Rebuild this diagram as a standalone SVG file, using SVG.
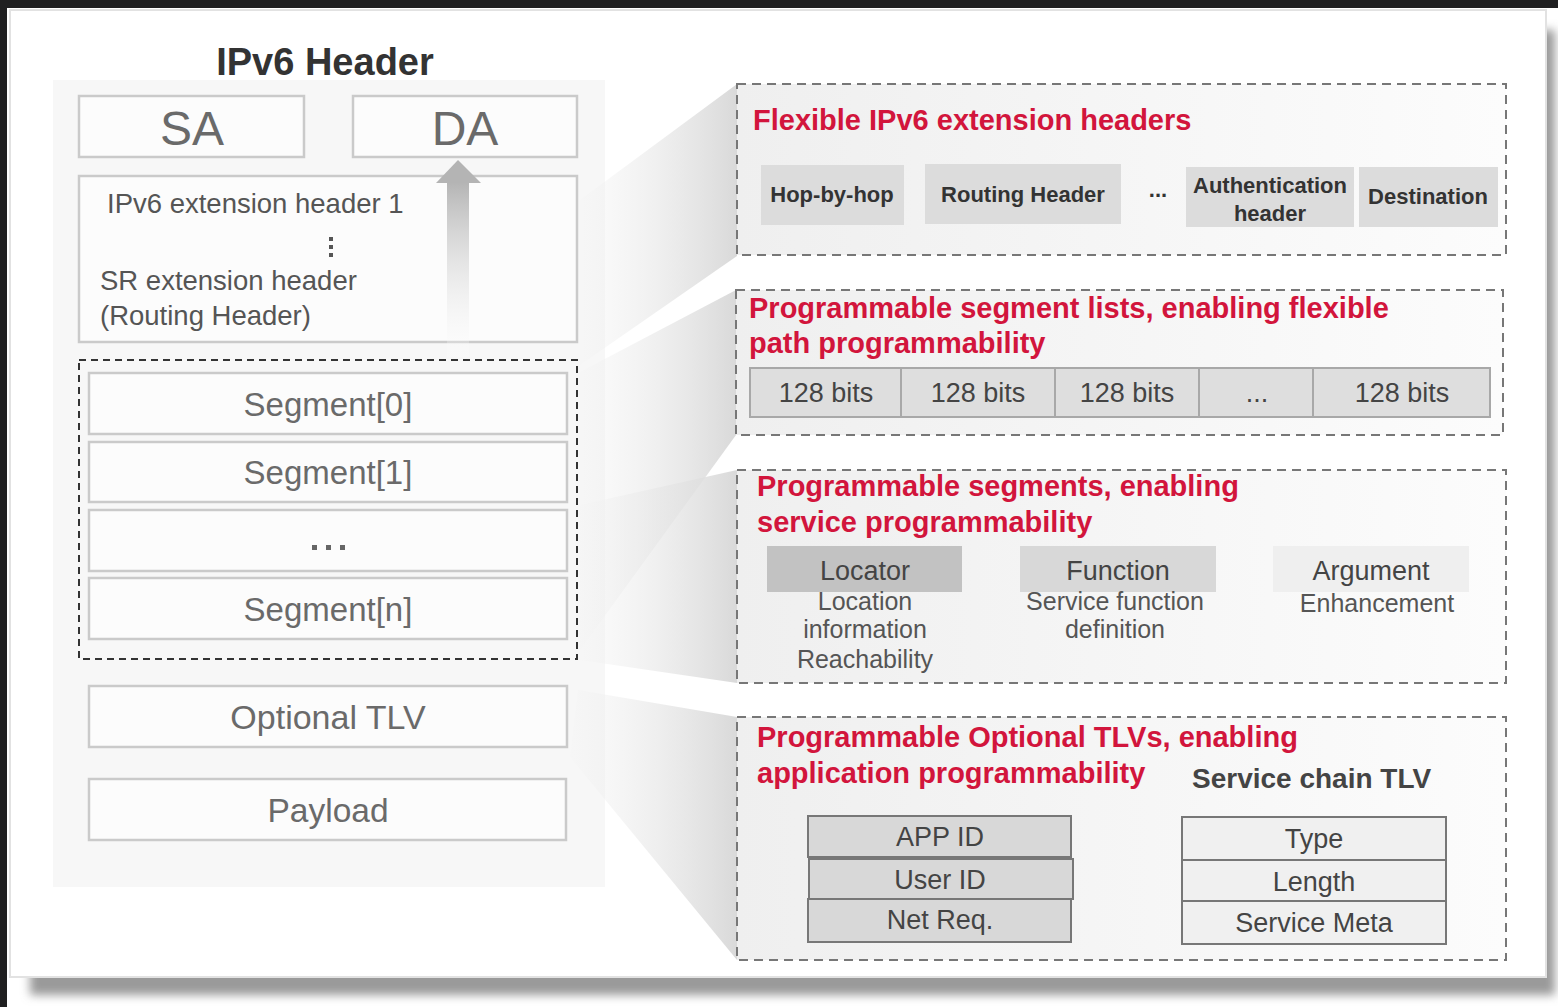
<svg xmlns="http://www.w3.org/2000/svg" width="1558" height="1007" viewBox="0 0 1558 1007">
<defs>
<linearGradient id="beam" x1="0" y1="0" x2="1" y2="0">
<stop offset="0" stop-color="#f4f4f4" stop-opacity="0.3"/>
<stop offset="1" stop-color="#d9d9d9" stop-opacity="1"/>
</linearGradient>
<linearGradient id="boxfill" x1="0" y1="0" x2="1" y2="0">
<stop offset="0" stop-color="#efefef"/>
<stop offset="1" stop-color="#fcfcfc"/>
</linearGradient>
<linearGradient id="shaft" x1="0" y1="0" x2="0" y2="1">
<stop offset="0" stop-color="#b4b4b4"/>
<stop offset="1" stop-color="#ffffff" stop-opacity="0.2"/>
</linearGradient>
<filter id="shadow" x="-5%" y="-5%" width="110%" height="110%">
<feGaussianBlur stdDeviation="5"/>
</filter>
<style>
.box{fill:#fcfcfc;stroke:#cacaca;stroke-width:2.5}
.big{font-family:"Liberation Sans",Arial,sans-serif;fill:#6a6a6a;text-anchor:middle}
.lt{font-family:"Liberation Sans",Arial,sans-serif;fill:#555;font-size:27.5px}
.dash{fill:url(#boxfill);stroke:#777;stroke-width:2;stroke-dasharray:9,6}
.red{font-family:"Liberation Sans",Arial,sans-serif;font-weight:bold;fill:#d2153c;font-size:29px}
.chip{font-family:"Liberation Sans",Arial,sans-serif;font-weight:bold;fill:#333;font-size:22px;text-anchor:middle}
.cell{fill:#dedede;stroke:#a8a8a8;stroke-width:2}
.ct{font-family:"Liberation Sans",Arial,sans-serif;fill:#444;font-size:27px;text-anchor:middle}
.sub{font-family:"Liberation Sans",Arial,sans-serif;fill:#555;font-size:25px;text-anchor:middle}
.stk{stroke:#777;stroke-width:2}
</style>
</defs>
<rect x="0" y="0" width="1558" height="1007" fill="#ffffff"/>
<rect x="0" y="0" width="1558" height="8" fill="#1f1f20"/>
<rect x="0" y="0" width="7" height="1007" fill="#1f1f20"/>
<rect x="30" y="30" width="1525" height="965" fill="#9a9a9a" filter="url(#shadow)"/>
<rect x="10" y="10" width="1536" height="967" fill="#ffffff" stroke="#e2e2e2" stroke-width="2"/>
<rect x="53" y="80" width="552" height="807" fill="#f7f7f7"/>

<g id="beams">
<polygon points="580,200 737,84 737,256 580,365" fill="url(#beam)"/>
<polygon points="580,372 736,290 736,435 580,650" fill="url(#beam)"/>
<polygon points="580,505 737,470 737,683 580,660" fill="url(#beam)"/>
<polygon points="578,690 737,717 737,960 570,757" fill="url(#beam)"/>
</g>

<text x="325" y="75" font-family="'Liberation Sans',Arial,sans-serif" font-weight="bold" font-size="38" fill="#333" text-anchor="middle">IPv6 Header</text>

<g id="sa"><rect class="box" x="79" y="96" width="225" height="61"/><text class="big" x="192" y="145" font-size="48">SA</text></g>
<g id="da"><rect class="box" x="353" y="96" width="224" height="61"/><text class="big" x="465" y="145" font-size="48">DA</text></g>

<g id="ext">
<rect class="box" x="79" y="176" width="498" height="166"/>
<text class="lt" x="107" y="213">IPv6 extension header 1</text>
<text class="lt" x="100" y="290">SR extension header</text>
<text class="lt" x="100" y="325">(Routing Header)</text>
<rect x="329" y="237" width="4" height="4" fill="#555"/>
<rect x="329" y="245" width="4" height="4" fill="#555"/>
<rect x="329" y="253" width="4" height="4" fill="#555"/>
</g>

<g id="connectors">
<rect x="447" y="182" width="22" height="175" fill="url(#shaft)"/>
<polygon points="436,183 458,160 481,183" fill="#b4b4b4"/>
</g>

<g id="seglist">
<rect x="79" y="360" width="498" height="299" fill="none" stroke="#333" stroke-width="2" stroke-dasharray="7,5"/>
<rect class="box" x="89" y="373" width="478" height="61"/><text class="big" x="328" y="416" font-size="33">Segment[0]</text>
<rect class="box" x="89" y="442" width="478" height="60"/><text class="big" x="328" y="484" font-size="33">Segment[1]</text>
<rect class="box" x="89" y="510" width="478" height="61"/>
<rect x="312" y="545" width="5" height="5" fill="#666"/><rect x="326" y="545" width="5" height="5" fill="#666"/><rect x="340" y="545" width="5" height="5" fill="#666"/>
<rect class="box" x="89" y="578" width="478" height="61"/><text class="big" x="328" y="621" font-size="33">Segment[n]</text>
</g>

<g id="opttlv"><rect class="box" x="89" y="686" width="478" height="61"/><text class="big" x="328" y="729" font-size="34">Optional TLV</text></g>
<g id="payload"><rect class="box" x="89" y="779" width="477" height="61"/><text class="big" x="328" y="822" font-size="33.5">Payload</text></g>

<g id="box1">
<rect class="dash" x="737" y="84" width="769" height="171"/>
<text class="red" x="753" y="130">Flexible IPv6 extension headers</text>
<rect x="761" y="165" width="143" height="60" fill="#dcdcdc"/><text class="chip" x="832" y="202">Hop-by-hop</text>
<rect x="925" y="164" width="196" height="60" fill="#dcdcdc"/><text class="chip" x="1023" y="202">Routing Header</text>
<text class="chip" x="1158" y="197" font-size="24">...</text>
<rect x="1186" y="167" width="168" height="60" fill="#dcdcdc"/><text class="chip" x="1270" y="193">Authentication</text><text class="chip" x="1270" y="221">header</text>
<rect x="1359" y="167" width="139" height="60" fill="#dcdcdc"/><text class="chip" x="1428" y="204">Destination</text>
</g>

<g id="box2">
<rect class="dash" x="736" y="290" width="767" height="145"/>
<text class="red" x="749" y="318">Programmable segment lists, enabling flexible</text>
<text class="red" x="749" y="353">path programmability</text>
<rect class="cell" x="750" y="368" width="151" height="49"/><text class="ct" x="826" y="402">128 bits</text>
<rect class="cell" x="901" y="368" width="154" height="49"/><text class="ct" x="978" y="402">128 bits</text>
<rect class="cell" x="1055" y="368" width="144" height="49"/><text class="ct" x="1127" y="402">128 bits</text>
<rect class="cell" x="1199" y="368" width="114" height="49"/><text class="ct" x="1257" y="402">...</text>
<rect class="cell" x="1313" y="368" width="177" height="49"/><text class="ct" x="1402" y="402">128 bits</text>
</g>

<g id="box3">
<rect class="dash" x="737" y="470" width="769" height="213"/>
<text class="red" x="757" y="496">Programmable segments, enabling</text>
<text class="red" x="757" y="532">service programmability</text>
<rect x="767" y="546" width="195" height="46" fill="#c2c2c2"/><text class="ct" x="865" y="580" font-size="30">Locator</text>
<text class="sub" x="865" y="610">Location</text><text class="sub" x="865" y="638">information</text><text class="sub" x="865" y="668">Reachability</text>
<rect x="1020" y="546" width="196" height="46" fill="#d8d8d8"/><text class="ct" x="1118" y="580" font-size="30">Function</text>
<text class="sub" x="1115" y="610">Service function</text><text class="sub" x="1115" y="638">definition</text>
<rect x="1273" y="546" width="196" height="46" fill="#efefef"/><text class="ct" x="1371" y="580" font-size="30">Argument</text>
<text class="sub" x="1377" y="612">Enhancement</text>
</g>

<g id="box4">
<rect class="dash" x="737" y="717" width="769" height="243"/>
<text class="red" x="757" y="747">Programmable Optional TLVs, enabling</text>
<text class="red" x="757" y="783">application programmability</text>
<text x="1192" y="788" font-family="'Liberation Sans',Arial,sans-serif" font-weight="bold" font-size="28" fill="#444">Service chain TLV</text>
<rect class="stk" x="808" y="816" width="263" height="41" fill="#d8d8d8"/><text class="ct" x="940" y="846">APP ID</text>
<rect class="stk" x="809" y="859" width="264" height="40" fill="#d8d8d8"/><text class="ct" x="940" y="889">User ID</text>
<rect class="stk" x="808" y="899" width="263" height="43" fill="#d8d8d8"/><text class="ct" x="940" y="929">Net Req.</text>
<rect class="stk" x="1182" y="817" width="264" height="43" fill="#f0f0f0"/><text class="ct" x="1314" y="848">Type</text>
<rect class="stk" x="1182" y="860" width="264" height="41" fill="#f0f0f0"/><text class="ct" x="1314" y="891">Length</text>
<rect class="stk" x="1182" y="901" width="264" height="43" fill="#f0f0f0"/><text class="ct" x="1314" y="932">Service Meta</text>
</g>
</svg>
